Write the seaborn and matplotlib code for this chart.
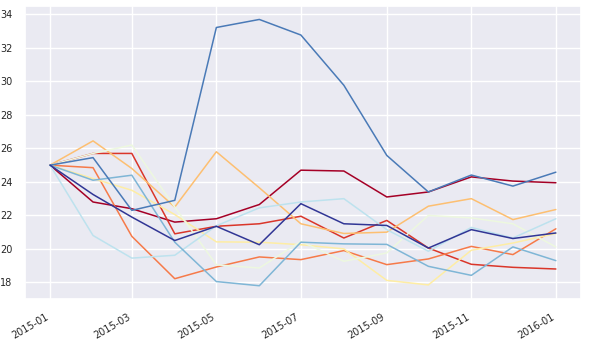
import numpy as np
import pandas as pd
import matplotlib
matplotlib.use("Agg")
import matplotlib.pyplot as plt
import matplotlib.dates as mdates
import seaborn as sns

months = pd.date_range("2015-01-01", periods=13, freq="MS")

s0 = [25.0, 22.8, 22.4, 21.6, 21.8, 22.65, 24.7, 24.65, 23.1, 23.4, 24.3, 24.05, 23.95]
s1 = [25.0, 25.7, 25.7, 20.9, 21.35, 21.5, 21.95, 20.65, 21.7, 20.05, 19.08, 18.9, 18.8]
s2 = [25.0, 24.85, 20.75, 18.22, 18.92, 19.52, 19.36, 19.9, 19.06, 19.4, 20.15, 19.66, 21.2]
s3 = [25.0, 26.45, 24.8, 22.5, 25.8, 23.65, 21.5, 20.92, 21.0, 22.55, 23.0, 21.75, 22.35]
s4 = [25.0, 24.2, 23.5, 22.05, 20.42, 20.4, 20.25, 20.0, 18.12, 17.85, 19.92, 20.35, 20.92]
s5 = [25.0, 25.7, 26.2, 22.5, 19.05, 18.86, 20.45, 19.26, 19.76, 22.0, 21.85, 21.5, 20.12]
s6 = [25.0, 20.8, 19.45, 19.62, 21.38, 22.45, 22.8, 23.0, 21.15, 19.86, 21.28, 20.65, 21.8]
s7 = [25.0, 24.1, 24.4, 20.4, 18.05, 17.8, 20.4, 20.3, 20.27, 18.96, 18.42, 20.12, 19.3]
s8 = [25.0, 25.45, 22.3, 22.9, 33.22, 33.7, 32.77, 29.77, 25.58, 23.4, 24.41, 23.75, 24.58]
s9 = [25.0, 23.25, 21.9, 20.5, 21.35, 20.25, 22.7, 21.5, 21.4, 20.05, 21.15, 20.62, 20.95]

series = [s0, s1, s2, s3, s4, s5, s6, s7, s8, s9]
names = [f"s{i}" for i in range(len(series))]

df = pd.DataFrame(
    [(m, name, v) for name, vals in zip(names, series) for m, v in zip(months, vals)],
    columns=["date", "series", "value"],
)

sns.set_theme(style="darkgrid")
palette = [tuple(c[:3]) for c in plt.cm.RdYlBu(np.linspace(0, 1, len(series)))]

fig, ax = plt.subplots(figsize=(5.9, 3.41), dpi=100)
sns.lineplot(data=df, x="date", y="value", hue="series", palette=palette,
             linewidth=1.1, legend=False, ax=ax)

ax.set_xlabel("")
ax.set_ylabel("")
ax.xaxis.set_major_locator(mdates.MonthLocator(bymonth=[1, 3, 5, 7, 9, 11]))
ax.xaxis.set_major_formatter(mdates.DateFormatter("%Y-%m"))
ax.set_yticks(range(18, 35, 2))
ax.tick_params(labelsize=7, pad=3)
for lbl in ax.get_xticklabels():
    lbl.set_rotation(30)
    lbl.set_ha("right")

fig.subplots_adjust(left=0.042, right=0.985, top=0.982, bottom=0.123)
fig.savefig("out.png", dpi=100)
